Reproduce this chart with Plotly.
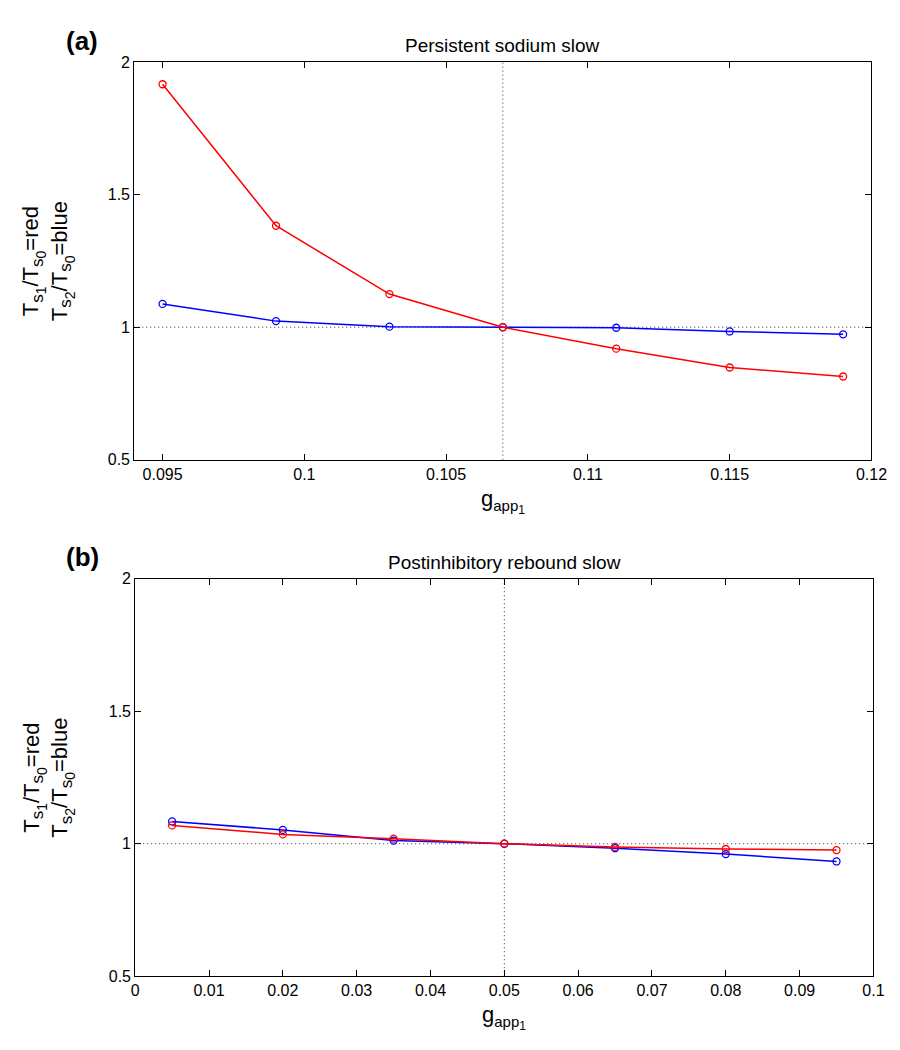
import plotly.graph_objects as go

# ---- data ----
xa = [0.095, 0.099, 0.103, 0.107, 0.111, 0.115, 0.119]
red_a = [1.917, 1.383, 1.125, 1.0, 0.919, 0.848, 0.814]
blue_a = [1.088, 1.023, 1.002, 1.0, 0.998, 0.984, 0.973]

xb = [0.005, 0.02, 0.035, 0.05, 0.065, 0.08, 0.095]
red_b = [1.069, 1.035, 1.019, 1.0, 0.988, 0.980, 0.976]
blue_b = [1.084, 1.052, 1.012, 1.0, 0.983, 0.961, 0.933]

ref_x_a = 0.107
ref_x_b = 0.05
ref_y = 1.0

xrange_a = [0.094, 0.12]
xrange_b = [0.0, 0.1]
yrange = [0.5, 2.0]

xticks_a = [0.095, 0.1, 0.105, 0.11, 0.115, 0.12]
xticklabels_a = ["0.095", "0.1", "0.105", "0.11", "0.115", "0.12"]
xticks_b = [0, 0.01, 0.02, 0.03, 0.04, 0.05, 0.06, 0.07, 0.08, 0.09, 0.1]
xticklabels_b = ["0", "0.01", "0.02", "0.03", "0.04", "0.05", "0.06", "0.07", "0.08", "0.09", "0.1"]
yticks = [0.5, 1, 1.5, 2]
yticklabels = ["0.5", "1", "1.5", "2"]

titles = ["Persistent sodium slow", "Postinhibitory rebound slow"]
panel_labels = ["(a)", "(b)"]

FONT = "Liberation Sans, Arial, Helvetica, sans-serif"
W, H = 900, 1050

fig = go.Figure()

def add_panel(x, red, blue, xa_name, ya_name):
    for ys, col in ((blue, "#0000ff"), (red, "#ff0000")):
        fig.add_trace(go.Scatter(
            x=x, y=ys, mode="lines+markers",
            line=dict(color=col, width=1.5),
            marker=dict(symbol="circle-open", size=7, color=col, line=dict(width=1.3, color=col)),
            xaxis=xa_name, yaxis=ya_name, showlegend=False, hoverinfo="skip"))

add_panel(xa, red_a, blue_a, "x", "y")
add_panel(xb, red_b, blue_b, "x2", "y2")

# reference dotted lines
DOT = dict(color="#333333", width=1, dash="1px,3px")
for xr, yr, xref, yref in ((ref_x_a, ref_y, "x", "y"), (ref_x_b, ref_y, "x2", "y2")):
    fig.add_shape(type="line", xref=xref, yref=yref + " domain", x0=xr, x1=xr, y0=0, y1=1,
                  line=DOT, layer="below")
    fig.add_shape(type="line", xref=xref + " domain", yref=yref, x0=0, x1=1, y0=yr, y1=yr,
                  line=DOT, layer="below")

dom_a_x = [125 / W, 879 / W]
dom_b_x = [126 / W, 881 / W]
dom_a_y = [1 - 451 / H, 1 - 47 / H]
dom_b_y = [1 - 976 / H, 1 - 572 / H]

def sub2(base, s, d):
    return (base + "<sub><span style='font-size:17px'>" + s + "</span><sub>"
            "<span style='font-size:14px'>" + d + "</span></sub></sub>")

ylabel = (sub2("T", "s", "1") + "/" + sub2("T", "s", "0") + "=red<br>" +
          sub2("T", "s", "2") + "/" + sub2("T", "s", "0") + "=blue")
xlabel = "g<sub><span style='font-size:15px'>app</span><sub><span style='font-size:12px'>1</span></sub></sub>"

axis_common = dict(showline=True, linecolor="black", linewidth=1, mirror="allticks",
                   ticks="inside", ticklen=6, tickcolor="black", showgrid=False, zeroline=False,
                   tickfont=dict(family=FONT, size=16, color="black"))

fig.update_layout(
    width=W, height=H, margin=dict(l=0, r=0, t=0, b=0),
    paper_bgcolor="white", plot_bgcolor="white",
    font=dict(family=FONT, color="black"),
    xaxis=dict(domain=dom_a_x, range=xrange_a, tickvals=xticks_a, ticktext=xticklabels_a,
               anchor="y", **axis_common),
    yaxis=dict(domain=dom_a_y, range=yrange, tickvals=yticks, ticktext=yticklabels,
               anchor="x", **axis_common),
    xaxis2=dict(domain=dom_b_x, range=xrange_b, tickvals=xticks_b, ticktext=xticklabels_b,
                anchor="y2", **axis_common),
    yaxis2=dict(domain=dom_b_y, range=yrange, tickvals=yticks, ticktext=yticklabels,
                anchor="x2", **axis_common),
)

# titles, axis labels and panel labels
for dom_x, dom_y, t, p in ((dom_a_x, dom_a_y, titles[0], panel_labels[0]),
                           (dom_b_x, dom_b_y, titles[1], panel_labels[1])):
    cx = (dom_x[0] + dom_x[1]) / 2
    cy = (dom_y[0] + dom_y[1]) / 2
    fig.add_annotation(xref="paper", yref="paper", x=cx, y=dom_y[1] + 17 / H,
                       text=t, showarrow=False, xanchor="center", yanchor="middle",
                       font=dict(family=FONT, size=19, color="black"))
    fig.add_annotation(xref="paper", yref="paper", x=72 / W, y=dom_y[1] + 22 / H,
                       text="<b>" + p + "</b>", showarrow=False, xanchor="center", yanchor="middle",
                       font=dict(family=FONT, size=26, color="black"))
    fig.add_annotation(xref="paper", yref="paper", x=cx, y=dom_y[0] - 42 / H,
                       text=xlabel, showarrow=False, xanchor="center", yanchor="middle",
                       font=dict(family=FONT, size=22, color="black"))
    fig.add_annotation(xref="paper", yref="paper", x=37 / W, y=cy,
                       text=ylabel, showarrow=False, xanchor="center", yanchor="middle",
                       textangle=-90,
                       font=dict(family=FONT, size=22, color="black"))

fig.write_html("out.html")
